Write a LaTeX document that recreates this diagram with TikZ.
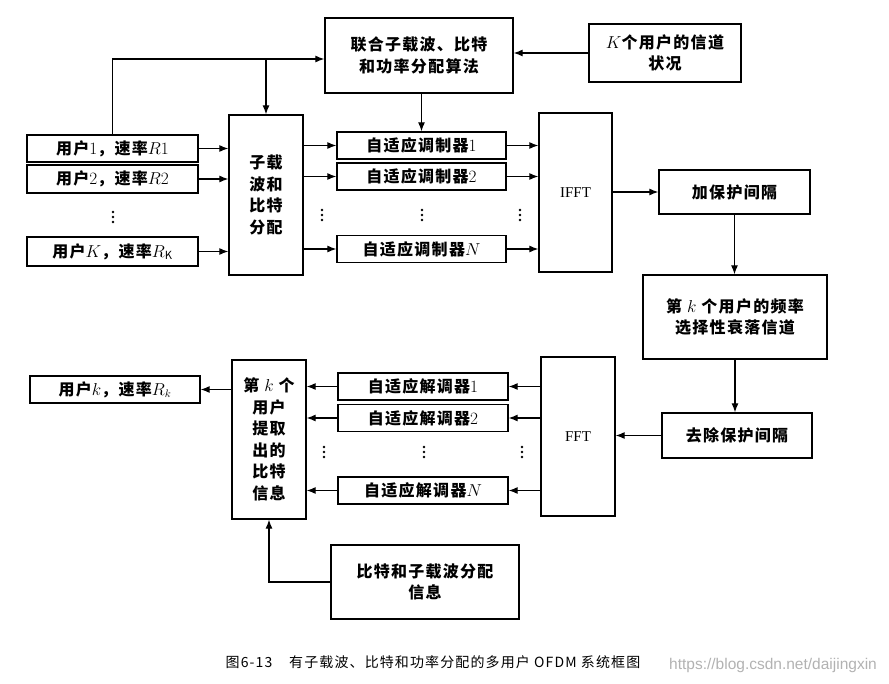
\documentclass[tikz,border=0pt]{standalone}
\usepackage{fontspec}
\setmainfont{Noto Sans CJK SC}[LetterSpace=8]
\newfontfamily\latfont{Liberation Serif}
\newfontfamily\urlfont{Liberation Sans}
\usetikzlibrary{arrows.meta, positioning}

\tikzset{
  box/.style={draw, line width=1.3pt, inner sep=0pt, align=center,
    font=\fontsize{16}{21.5}\selectfont\bfseries},
  fftbox/.style={box, minimum width=74pt, minimum height=159pt,
    font=\latfont\fontsize{15}{18}\selectfont},
  arr/.style={line width=1.2pt, -{Latex[length=9pt,width=7pt]}},
}
\newcommand{\vdotsat}[2]{%
  \foreach \d in {-5,0,5} {\fill (#1,#2+\d) circle (1.3pt);}}

\begin{document}
\begin{tikzpicture}[x=1pt,y=-1pt]
    \useasboundingbox (0,0) rectangle (889,684);

    % Allocation
    \node[box, minimum width=188pt, minimum height=75pt] (algo) at (419,55.5)
      {联合子载波、比特\\和功率分配算法};
    \node[box, minimum width=152pt, minimum height=58pt] (csi) at (665,53)
      {$K$个用户的信道\\状况};

    % Users
    \node[box, minimum width=171pt, minimum height=27pt] (user1) at (112.5,148.5) {用户$1$，速率$R1$};
    \node[box, minimum width=171pt, minimum height=28pt] (user2) at (112.5,179) {用户$2$，速率$R2$};
    \node[box, minimum width=171pt, minimum height=29pt] (userK) at (112.5,251.5) {用户$K$，速率$R_{\mathrm{K}}$};
    \vdotsat{113}{217}

    \node[box, minimum width=74pt, minimum height=160pt] (alloc) at (266,195)
      {子载\\波和\\比特\\分配};

    % Modulators
    \foreach \n/\y in {1/145.5, 2/176.5, N/249}
      \node[box, minimum width=169pt, minimum height=27pt] (mod\n) at (421.5,\y) {自适应调制器$\n$};
    \foreach \x in {322,422,520} {\vdotsat{\x}{215}}

    \node[fftbox, minimum width=73pt] (ifft) at (575.5,192.5) {IFFT};
    \node[box, minimum width=151pt, minimum height=44pt] (addgi) at (734.5,192) {加保护间隔};
    \node[box, minimum width=184pt, minimum height=84pt] (fade) at (735,317)
      {第 $k$ 个用户的频率\\选择性衰落信道};
    \node[box, minimum width=150pt, minimum height=45pt] (remgi) at (737,435.5) {去除保护间隔};
    \node[fftbox] (fft) at (578,436.5) {FFT};

    % Demodulators
    \foreach \n/\y in {1/386.5, 2/418, N/490.5}
      \node[box, minimum width=170pt, minimum height=27pt] (demod\n) at (423,\y) {自适应解调器$\n$};
    \foreach \x in {324,424,522} {\vdotsat{\x}{452}}

    \node[box, minimum width=74pt, minimum height=159pt] (extract) at (269,439.5)
      {第 $k$ 个\\用户\\提取\\出的\\比特\\信息};
    \node[box, minimum width=170pt, minimum height=27pt] (userk) at (115,389.5) {用户$k$，速率$R_k$};
    \node[box, minimum width=188pt, minimum height=74pt] (bitinfo) at (425,582)
      {比特和子载波分配\\信息};

    % Transmitter arrows
    \coordinate (split) at (266,59);
    \draw[arr] (csi.west) -- (csi.west -| algo.east);
    \draw[arr] (user1.north) |- (algo.west |- split);
    \draw[arr] (split) -- (alloc.north);
    \draw[arr] (mod1.north |- algo.south) -- (mod1.north);
    \foreach \n in {1,2,K}
      \draw[arr] (user\n.east) -- (user\n.east -| alloc.west);
    \foreach \n in {1,2,N} {
      \draw[arr] (alloc.east |- mod\n) -- (mod\n.west);
      \draw[arr] (mod\n.east) -- (mod\n.east -| ifft.west);
    }
    \draw[arr] (ifft.east |- addgi) -- (addgi.west);
    \draw[arr] (addgi.south) -- (addgi.south |- fade.north);

    % Receiver arrows
    \draw[arr] (fade.south) -- (fade.south |- remgi.north);
    \draw[arr] (remgi.west) -- (remgi.west -| fft.east);
    \foreach \n in {1,2,N} {
      \draw[arr] (fft.west |- demod\n) -- (demod\n.east);
      \draw[arr] (demod\n.west) -- (demod\n.west -| extract.east);
    }
    \draw[arr] (extract.west |- userk) -- (userk.east);
    \draw[arr] (bitinfo.west) -| (extract.south);

    % Caption
    \node[font=\fontsize{14}{16}\selectfont] (caption) at (433,662)
      {图6-13\hspace{1.2em}有子载波、比特和功率分配的多用户 OFDM 系统框图};
    \node[font=\urlfont\fontsize{15.5}{18}\selectfont, text=black!30] (mark) at (773,665)
      {https://blog.csdn.net/daijingxin};
\end{tikzpicture}
\end{document}
